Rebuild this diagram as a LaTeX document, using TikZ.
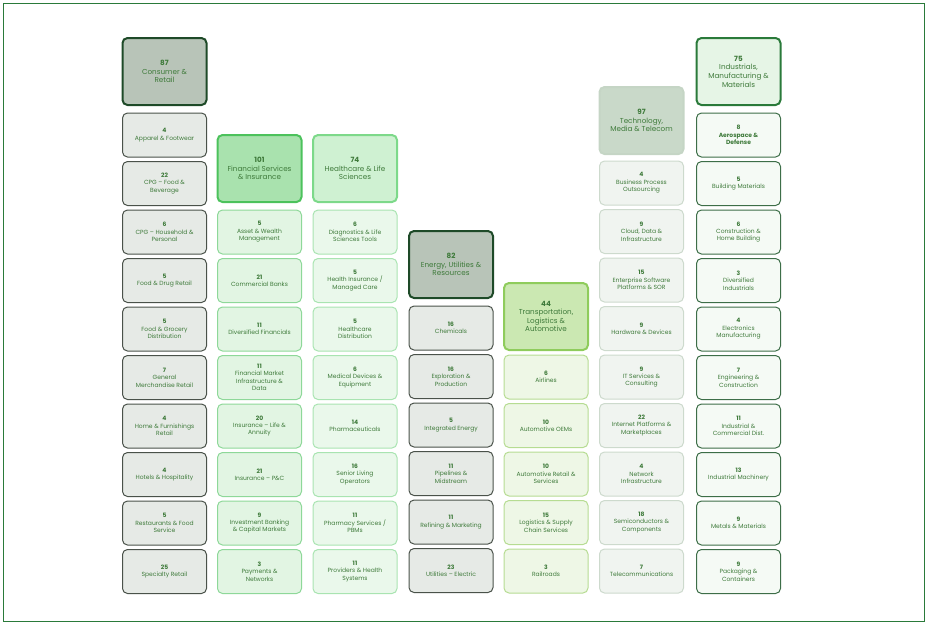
\documentclass[tikz,border=0pt]{standalone}
\usepackage{fontspec}
\setmainfont{Poppins}
\begin{document}
\begin{tikzpicture}[x=1pt,y=-1pt,
 box/.style={rounded corners=5pt,minimum width=84pt,align=center,text=txt,font=\fontsize{6}{7.4}\selectfont,inner sep=1pt},
 sub/.style={box,minimum height=44pt,line width=1pt},
 hdr/.style={box,minimum height=67pt,line width=2pt,font=\fontsize{7.2}{8.6}\selectfont},
 cA/.style={fill=hA,draw=dA}, sA/.style={fill=sfA,draw=sdA},
 cB/.style={fill=hB,draw=dB}, sB/.style={fill=sfB,draw=sdB},
 cC/.style={fill=hC,draw=dC}, sC/.style={fill=sfC,draw=sdC},
 cE/.style={fill=hE,draw=dE}, sE/.style={fill=sfE,draw=sdE},
 cF/.style={fill=hF,draw=dF}, sF/.style={fill=sfF,draw=sdF},
 cG/.style={fill=hG,draw=dG}, sG/.style={fill=sfG,draw=sdG}]
\definecolor{txt}{HTML}{3E7A3A}
\definecolor{hA}{HTML}{B8C4B8}\definecolor{dA}{HTML}{1E4A28}\definecolor{sfA}{HTML}{E6EAE6}\definecolor{sdA}{HTML}{4A524A}
\definecolor{hB}{HTML}{A9E2AE}\definecolor{dB}{HTML}{4CC25C}\definecolor{sfB}{HTML}{E2F5E3}\definecolor{sdB}{HTML}{8ED899}
\definecolor{hC}{HTML}{CFF1D2}\definecolor{dC}{HTML}{7DD98A}\definecolor{sfC}{HTML}{EAF8EB}\definecolor{sdC}{HTML}{A9E4B1}
\definecolor{hE}{HTML}{CBE8B2}\definecolor{dE}{HTML}{8FCC5C}\definecolor{sfE}{HTML}{EEF7E6}\definecolor{sdE}{HTML}{B6DC92}
\definecolor{hF}{HTML}{C9D9C9}\definecolor{dF}{HTML}{C5D5C5}\definecolor{sfF}{HTML}{F0F4F0}\definecolor{sdF}{HTML}{CDDACD}
\definecolor{hG}{HTML}{E6F5E6}\definecolor{dG}{HTML}{2A7A3A}\definecolor{sfG}{HTML}{F5FAF5}\definecolor{sdG}{HTML}{3D6E48}
\useasboundingbox (0,0) rectangle (927,625);
\draw[draw=dG,line width=0.8pt] (3,3) rectangle (924,621);
\newcommand{\hdrbox}[5]{\node[hdr,#2] (#1) at (#3,#4+33.5) {#5};}
\newcommand{\subbox}[6]{\node[sub,#2] (#1) at (#3,#4+22+#5*48.5) {#6};}
% column 1
\hdrbox{h1}{cA}{164.5}{38}{\textbf{87}\\Consumer \&\\Retail}
\subbox{a1}{sA}{164.5}{113}{0}{\textbf{4}\\Apparel \& Footwear}
\subbox{a2}{sA}{164.5}{113}{1}{\textbf{22}\\CPG – Food \&\\Beverage}
\subbox{a3}{sA}{164.5}{113}{2}{\textbf{6}\\CPG – Household \&\\Personal}
\subbox{a4}{sA}{164.5}{113}{3}{\textbf{5}\\Food \& Drug Retail}
\subbox{a5}{sA}{164.5}{113}{4}{\textbf{5}\\Food \& Grocery\\Distribution}
\subbox{a6}{sA}{164.5}{113}{5}{\textbf{7}\\General\\Merchandise Retail}
\subbox{a7}{sA}{164.5}{113}{6}{\textbf{4}\\Home \& Furnishings\\Retail}
\subbox{a8}{sA}{164.5}{113}{7}{\textbf{4}\\Hotels \& Hospitality}
\subbox{a9}{sA}{164.5}{113}{8}{\textbf{5}\\Restaurants \& Food\\Service}
\subbox{a10}{sA}{164.5}{113}{9}{\textbf{25}\\Specialty Retail}
% column 2
\hdrbox{h2}{cB}{259.5}{135}{\textbf{101}\\Financial Services\\\& Insurance}
\subbox{b1}{sB}{259.5}{210}{0}{\textbf{5}\\Asset \& Wealth\\Management}
\subbox{b2}{sB}{259.5}{210}{1}{\textbf{21}\\Commercial Banks}
\subbox{b3}{sB}{259.5}{210}{2}{\textbf{11}\\Diversified Financials}
\subbox{b4}{sB}{259.5}{210}{3}{\textbf{11}\\Financial Market\\Infrastructure \&\\Data}
\subbox{b5}{sB}{259.5}{210}{4}{\textbf{20}\\Insurance – Life \&\\Annuity}
\subbox{b6}{sB}{259.5}{210}{5}{\textbf{21}\\Insurance – P\&C}
\subbox{b7}{sB}{259.5}{210}{6}{\textbf{9}\\Investment Banking\\\& Capital Markets}
\subbox{b8}{sB}{259.5}{210}{7}{\textbf{3}\\Payments \&\\Networks}
% column 3
\hdrbox{h3}{cC}{355}{135}{\textbf{74}\\Healthcare \& Life\\Sciences}
\subbox{c1}{sC}{355}{210}{0}{\textbf{6}\\Diagnostics \& Life\\Sciences Tools}
\subbox{c2}{sC}{355}{210}{1}{\textbf{5}\\Health Insurance /\\Managed Care}
\subbox{c3}{sC}{355}{210}{2}{\textbf{5}\\Healthcare\\Distribution}
\subbox{c4}{sC}{355}{210}{3}{\textbf{6}\\Medical Devices \&\\Equipment}
\subbox{c5}{sC}{355}{210}{4}{\textbf{14}\\Pharmaceuticals}
\subbox{c6}{sC}{355}{210}{5}{\textbf{16}\\Senior Living\\Operators}
\subbox{c7}{sC}{355}{210}{6}{\textbf{11}\\Pharmacy Services /\\PBMs}
\subbox{c8}{sC}{355}{210}{7}{\textbf{11}\\Providers \& Health\\Systems}
% column 4
\hdrbox{h4}{cA}{451}{231}{\textbf{82}\\Energy, Utilities \&\\Resources}
\subbox{d1}{sA}{451}{306}{0}{\textbf{16}\\Chemicals}
\subbox{d2}{sA}{451}{306}{1}{\textbf{16}\\Exploration \&\\Production}
\subbox{d3}{sA}{451}{306}{2}{\textbf{5}\\Integrated Energy}
\subbox{d4}{sA}{451}{306}{3}{\textbf{11}\\Pipelines \&\\Midstream}
\subbox{d5}{sA}{451}{306}{4}{\textbf{11}\\Refining \& Marketing}
\subbox{d6}{sA}{451}{306}{5}{\textbf{23}\\Utilities – Electric}
% column 5
\hdrbox{h5}{cE}{546}{283}{\textbf{44}\\Transportation,\\Logistics \&\\Automotive}
\subbox{e1}{sE}{546}{355}{0}{\textbf{6}\\Airlines}
\subbox{e2}{sE}{546}{355}{1}{\textbf{10}\\Automotive OEMs}
\subbox{e3}{sE}{546}{355}{2}{\textbf{10}\\Automotive Retail \&\\Services}
\subbox{e4}{sE}{546}{355}{3}{\textbf{15}\\Logistics \& Supply\\Chain Services}
\subbox{e5}{sE}{546}{355}{4}{\textbf{3}\\Railroads}
% column 6
\hdrbox{h6}{cF}{641.5}{87}{\textbf{97}\\Technology,\\Media \& Telecom}
\subbox{f1}{sF}{641.5}{161}{0}{\textbf{4}\\Business Process\\Outsourcing}
\subbox{f2}{sF}{641.5}{161}{1}{\textbf{9}\\Cloud, Data \&\\Infrastructure}
\subbox{f3}{sF}{641.5}{161}{2}{\textbf{15}\\Enterprise Software\\Platforms \& SOR}
\subbox{f4}{sF}{641.5}{161}{3}{\textbf{9}\\Hardware \& Devices}
\subbox{f5}{sF}{641.5}{161}{4}{\textbf{9}\\IT Services \&\\Consulting}
\subbox{f6}{sF}{641.5}{161}{5}{\textbf{22}\\Internet Platforms \&\\Marketplaces}
\subbox{f7}{sF}{641.5}{161}{6}{\textbf{4}\\Network\\Infrastructure}
\subbox{f8}{sF}{641.5}{161}{7}{\textbf{18}\\Semiconductors \&\\Components}
\subbox{f9}{sF}{641.5}{161}{8}{\textbf{7}\\Telecommunications}
% column 7
\hdrbox{h7}{cG}{738.5}{38}{\textbf{75}\\Industrials,\\Manufacturing \&\\Materials}
\subbox{g1}{sG}{738.5}{113}{0}{\textbf{8}\\\textbf{Aerospace \&}\\\textbf{Defense}}
\subbox{g2}{sG}{738.5}{113}{1}{\textbf{5}\\Building Materials}
\subbox{g3}{sG}{738.5}{113}{2}{\textbf{6}\\Construction \&\\Home Building}
\subbox{g4}{sG}{738.5}{113}{3}{\textbf{3}\\Diversified\\Industrials}
\subbox{g5}{sG}{738.5}{113}{4}{\textbf{4}\\Electronics\\Manufacturing}
\subbox{g6}{sG}{738.5}{113}{5}{\textbf{7}\\Engineering \&\\Construction}
\subbox{g7}{sG}{738.5}{113}{6}{\textbf{11}\\Industrial \&\\Commercial Dist.}
\subbox{g8}{sG}{738.5}{113}{7}{\textbf{13}\\Industrial Machinery}
\subbox{g9}{sG}{738.5}{113}{8}{\textbf{9}\\Metals \& Materials}
\subbox{g10}{sG}{738.5}{113}{9}{\textbf{9}\\Packaging \&\\Containers}
\end{tikzpicture}
\end{document}
